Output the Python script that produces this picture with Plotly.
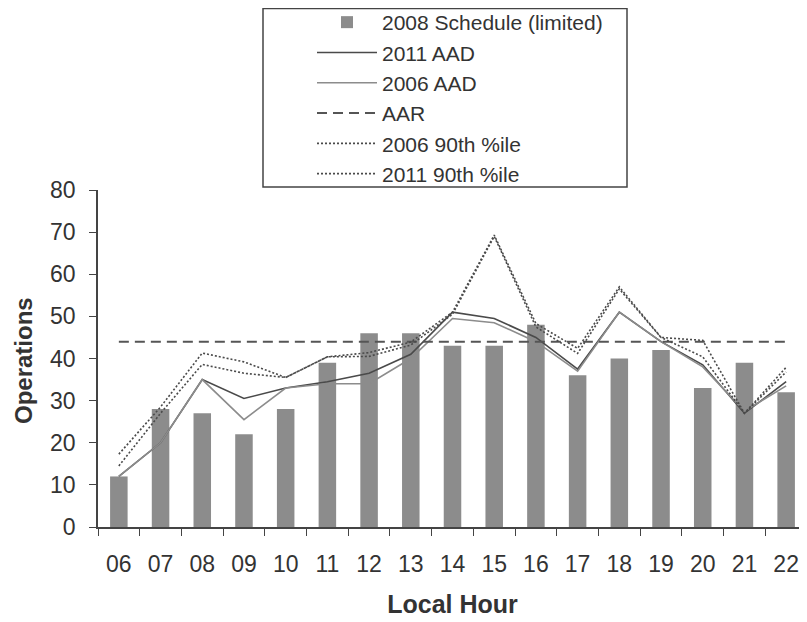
import plotly.graph_objects as go

hours = ["06", "07", "08", "09", "10", "11", "12", "13", "14", "15", "16", "17", "18", "19", "20", "21", "22"]
schedule_2008 = [12, 28, 27, 22, 28, 39, 46, 46, 43, 43, 48, 36, 40, 42, 33, 39, 32]
aad_2011 = [12, 20, 35, 30.5, 33, 34.5, 36.5, 41, 51, 49.5, 45, 37.5, 51, 44, 38.5, 27, 34.5]
aad_2006 = [12, 20, 35, 25.5, 33, 34, 34, 40, 49.5, 48.5, 44, 37, 51, 44, 38, 27.5, 33.5]
aar = [44, 44, 44, 44, 44, 44, 44, 44, 44, 44, 44, 44, 44, 44, 44, 44, 44]
p90_2006 = [14.5, 27, 38.6, 36.5, 35.5, 40.4, 40.5, 43.2, 50.5, 69, 47.5, 41.2, 56.5, 45, 40.4, 27, 36.8]
p90_2011 = [17.3, 28.5, 41.3, 39.2, 35.5, 40.4, 41.4, 43.9, 51, 69.3, 48.3, 42.4, 57, 45, 44.3, 27, 37.9]
y_ticks = [0, 10, 20, 30, 40, 50, 60, 70, 80]

FONT = "Arial, Liberation Sans, sans-serif"

# page body has an 8px margin, so the figure is sized to fit the window
W, H = 799, 614
L, R, T, B = 90, 0, 182, 95
PW, PH = W - L - R, H - T - B


def px(fx):
    return (fx - L) / PW


def py(fy):
    return (H - B - fy) / PH


fig = go.Figure()
fig.add_trace(go.Bar(x=hours, y=schedule_2008, name="2008 Schedule (limited)",
                     marker=dict(color="#8c8c8c", line=dict(width=0)), legendgroup="a"))
fig.add_trace(go.Scatter(x=hours, y=aad_2011, name="2011 AAD", mode="lines",
                         line=dict(color="#4a4a4a", width=1.6), legendgroup="b"))
fig.add_trace(go.Scatter(x=hours, y=aad_2006, name="2006 AAD", mode="lines",
                         line=dict(color="#8c8c8c", width=1.6), legendgroup="c"))
fig.add_trace(go.Scatter(x=hours, y=aar, name="AAR", mode="lines",
                         line=dict(color="#555555", width=2, dash="10px,6px"), legendgroup="d"))
fig.add_trace(go.Scatter(x=hours, y=p90_2006, name="2006 90th %ile", mode="lines",
                         line=dict(color="#4a4a4a", width=1.6, dash="2px,2px"), legendgroup="e"))
fig.add_trace(go.Scatter(x=hours, y=p90_2011, name="2011 90th %ile", mode="lines",
                         line=dict(color="#4a4a4a", width=1.6, dash="2px,2px"), legendgroup="f"))

fig.update_layout(
    width=W, height=H,
    margin=dict(l=L, r=R, t=T, b=B, pad=0, autoexpand=False),
    paper_bgcolor="white", plot_bgcolor="white",
    font=dict(family=FONT, size=22, color="#333333"),
    bargap=0.58,
    showlegend=True,
    legend=dict(
        xref="container", yref="paper",
        x=304 / W, y=py(-6), xanchor="left", yanchor="top",
        font=dict(family=FONT, size=21, color="#333333"),
        traceorder="normal", tracegroupgap=0,
        itemwidth=60, borderwidth=0, bgcolor="rgba(0,0,0,0)",
    ),
    shapes=[dict(type="rect", xref="paper", yref="paper",
                 x0=px(255), x1=px(619), y0=py(179), y1=py(0.5),
                 line=dict(color="#444444", width=1.5), fillcolor="rgba(0,0,0,0)", layer="above")],
    annotations=[dict(text="<b>Operations</b>", xref="paper", yref="paper",
                      x=px(15), y=py(353), xanchor="center", yanchor="middle",
                      textangle=-90, showarrow=False,
                      font=dict(family=FONT, size=24, color="#333333"))],
)

fig.update_xaxes(
    type="category", range=[-0.5, 16.5],
    showline=True, linecolor="#444444", linewidth=1.5,
    ticks="outside", tickson="boundaries", ticklen=7, tickwidth=1.2, tickcolor="#444444",
    ticklabelstandoff=16, tickangle=0,
    tickfont=dict(family=FONT, size=23, color="#333333"),
    title=dict(text="<b>Local Hour</b>", font=dict(family=FONT, size=25, color="#333333"), standoff=19),
    showgrid=False, zeroline=False,
)
fig.update_yaxes(
    range=[0, 80], tickvals=y_ticks,
    showline=True, linecolor="#444444", linewidth=1.5,
    ticks="outside", ticklen=7, tickwidth=1.2, tickcolor="#444444",
    ticklabelstandoff=9,
    tickfont=dict(family=FONT, size=23, color="#333333"),
    showgrid=False, zeroline=False,
)

fig.write_html("out.html")
